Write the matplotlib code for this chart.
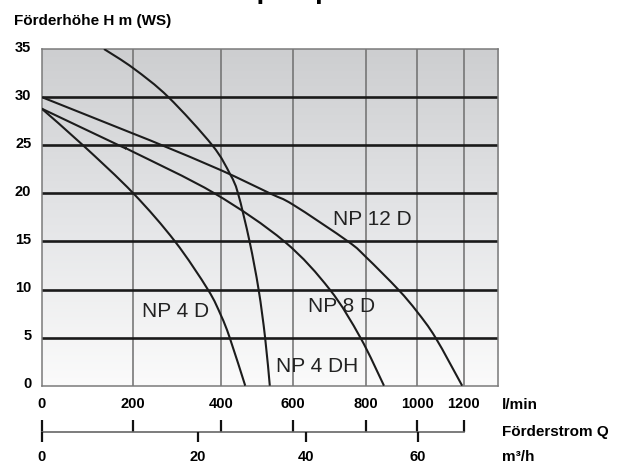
import numpy as np
import matplotlib
matplotlib.use('Agg')
import matplotlib.pyplot as plt
from matplotlib.colors import LinearSegmentedColormap
from matplotlib.transforms import ScaledTranslation
from matplotlib.path import Path
from matplotlib.patches import PathPatch

plt.rcParams['font.family'] = ['Liberation Sans', 'DejaVu Sans']

# --- Daten ---
h_ticks = [0, 5, 10, 15, 20, 25, 30, 35]
q_lmin_ticks = [0, 200, 400, 600, 800, 1000, 1200]
q_m3h_ticks = [0, 20, 40, 60]

np4d_q = [0, 90, 200, 295, 370, 400, 424, 467]
np4d_h = [28.8, 25, 20, 15, 10, 7.3, 5, 0]

np8d_q = [0, 168, 200, 385, 575, 700, 784, 870]
np8d_h = [28.8, 25, 24.3, 20, 15, 10, 5, 0]

np12d_q = [0, 200, 265, 400, 535, 600, 750, 800, 926, 1000, 1079, 1193]
np12d_h = [30, 26.2, 25, 22.4, 20, 18.8, 15, 13.35, 10, 7.7, 5, 0]

np4dh_q = [136, 200, 280, 380, 425, 447, 479, 504, 522, 535]
np4dh_h = [35, 33.0, 30, 25, 22, 20, 15, 10, 5, 0]

curve_labels = ['NP 4 D', 'NP 8 D', 'NP 12 D', 'NP 4 DH']
label_q = [219, 640, 709, 552]
label_h = [7.8, 8.3, 17.4, 2.1]

# die Q-Achse im Original ist nicht linear -> Stuetzstellen (Pixel)
lmin_knots = [0, 200, 400, 600, 800, 1000, 1200, 1400]
lmin_px = [41.7, 133.3, 221, 293.3, 366.2, 417, 463.8, 510.6]
m3h_knots = [0, 20, 40, 60, 80]
m3h_px = [41.7, 198, 306, 417.7, 529.4]


def knot_scale(knots, px):
    fwd = lambda v: np.interp(v, knots, px)
    inv = lambda p: np.interp(p, px, knots)
    return fwd, inv


lmin_scale = knot_scale(lmin_knots, lmin_px)
m3h_scale = knot_scale(m3h_knots, m3h_px)


def smooth_curve(q, h):
    fwd, inv = lmin_scale
    pts = np.column_stack([fwd(np.asarray(q, float)), np.asarray(h, float)])
    ext = np.vstack([pts[0], pts, pts[-1]])
    verts = [pts[0]]
    codes = [Path.MOVETO]
    for i in range(len(pts) - 1):
        p0, p1, p2, p3 = ext[i], ext[i + 1], ext[i + 2], ext[i + 3]
        verts += [p1 + (p2 - p0) / 6, p2 - (p3 - p1) / 6, p2]
        codes += [Path.CURVE4] * 3
    verts = np.array(verts)
    verts[:, 0] = inv(verts[:, 0])
    return Path(verts, codes)


W, H = 627, 464
L, R, T, B = 41.7, 498.3, 50, 386.7
fig = plt.figure(figsize=(W / 100, H / 100), dpi=100)
rect = [L / W, 1 - B / H, (R - L) / W, (B - T) / H]

# Hintergrund-Verlauf
cmap = LinearSegmentedColormap.from_list('bg', ['#cdced0', '#e4e5e7', '#fbfbfb'])
bg = fig.add_axes(rect, zorder=0)
bg.imshow(np.linspace(0, 1, 256)[:, None], cmap=cmap, aspect='auto', extent=(0, 1, 0, 1))
bg.axis('off')

ax = fig.add_axes(rect, zorder=1)
ax.patch.set_visible(False)
ax.set_xscale('function', functions=lmin_scale)
q_right = float(lmin_scale[1](R))
ax.set_xlim(0, q_right)
ax.set_ylim(0, 35)

for v in q_lmin_ticks[1:]:
    ax.axvline(v, color='#6e6e6e', lw=1.1, zorder=1)
for v in h_ticks[1:-1]:
    ax.axhline(v, color='#1a1a1a', lw=1.9, zorder=2)
for s in ax.spines.values():
    s.set_color('#7a7a7a')
    s.set_linewidth(1.1)

for q, h in [(np4d_q, np4d_h), (np8d_q, np8d_h), (np12d_q, np12d_h), (np4dh_q, np4dh_h)]:
    ax.add_patch(PathPatch(smooth_curve(q, h), fill=False, edgecolor='#1c1c1c',
                           lw=1.5, zorder=3, transform=ax.transData))
ax.set_xlim(0, q_right)
ax.set_ylim(0, 35)

for txt, x, y in zip(curve_labels, label_q, label_h):
    ax.text(x, y, txt, fontsize=15, ha='left', va='center', color='#222222', zorder=4)

ax.set_xticks(q_lmin_ticks, [str(v) for v in q_lmin_ticks], fontweight='bold', fontsize=10.5)
ax.set_yticks(h_ticks, [str(v) for v in h_ticks], fontweight='bold', fontsize=10.5)
ax.tick_params(axis='x', length=0, pad=7.5)
ax.tick_params(axis='y', length=0, pad=7.5)
shift = ScaledTranslation(0, 0.04, fig.dpi_scale_trans)
for t in ax.yaxis.get_major_ticks():
    t.label1.set_transform(t.label1.get_transform() + shift)

# Foerderstrom-Leiste unten
rect2 = [L / W, 1 - 432.7 / H, (R - L) / W, 0.03]
ax2 = fig.add_axes(rect2, zorder=1)
ax2.patch.set_visible(False)
ax2.set_xscale('function', functions=lmin_scale)
ax2.set_xlim(0, q_right)
ax2.set_ylim(0, 1)
for k in ['top', 'left', 'right']:
    ax2.spines[k].set_visible(False)
ax2.spines['bottom'].set_bounds(0, 1200)
ax2.spines['bottom'].set_color('#666666')
ax2.spines['bottom'].set_linewidth(1.2)
ax2.set_xticks(q_lmin_ticks, [''] * len(q_lmin_ticks))
ax2.set_yticks([])
ax2.tick_params(axis='x', direction='in', length=8.5, width=1.6, color='#111111')

ax3 = fig.add_axes(rect2, zorder=1)
ax3.patch.set_visible(False)
ax3.set_xscale('function', functions=m3h_scale)
ax3.set_xlim(0, float(m3h_scale[1](R)))
ax3.set_ylim(0, 1)
for s in ax3.spines.values():
    s.set_visible(False)
ax3.set_yticks([])
ax3.set_xticks(q_m3h_ticks, [str(v) for v in q_m3h_ticks], fontweight='bold', fontsize=10.5)
ax3.tick_params(axis='x', direction='out', length=7.5, width=1.6, color='#111111', pad=5)

fig.text(14 / W, 1 - 21 / H, 'Förderhöhe H m (WS)', fontsize=11, fontweight='bold', va='center', ha='left')
fig.text(502 / W, 1 - 405 / H, 'l/min', fontsize=11, fontweight='bold', va='center', ha='left')
fig.text(502 / W, 1 - 432 / H, 'Förderstrom Q', fontsize=11, fontweight='bold', va='center', ha='left')
fig.text(502 / W, 1 - 457 / H, 'm³/h', fontsize=11, fontweight='bold', va='center', ha='left')
# Titel liegt im Original oberhalb des Bildrands, nur die Unterlaengen sind sichtbar
fig.text(178 / W, 1 + 2.5 / H, 'Tauchpumpen', fontsize=20, fontweight='bold', va='baseline', ha='left')

fig.savefig('out.png', dpi=100)
